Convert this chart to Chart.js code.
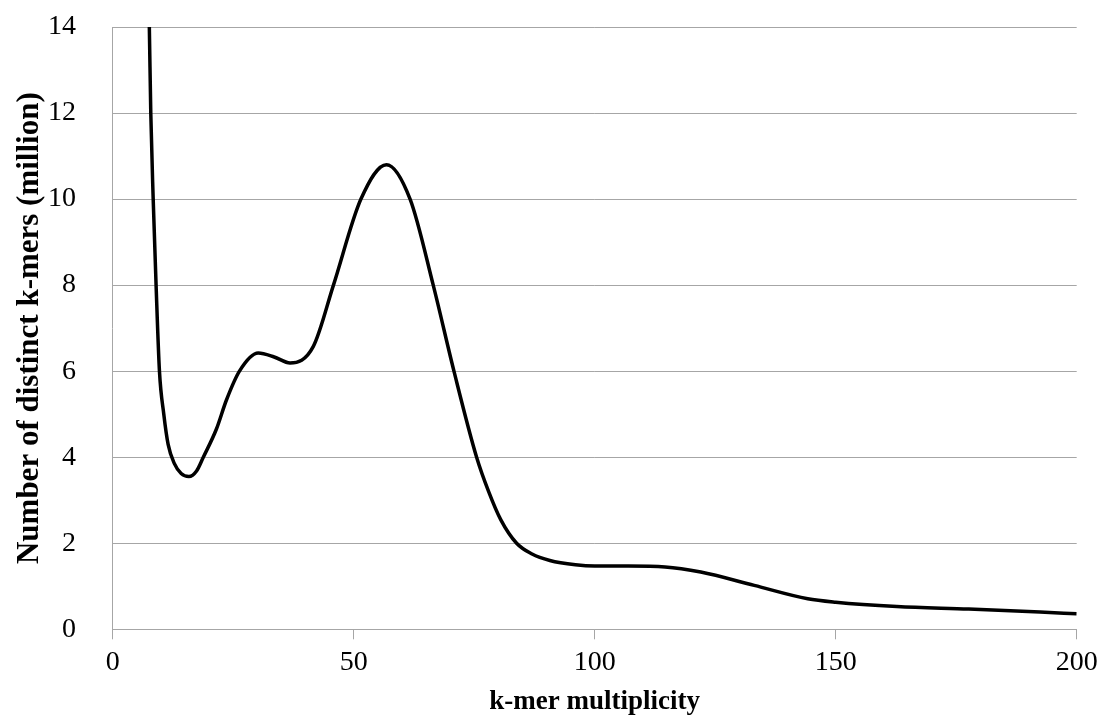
<!DOCTYPE html>
<html>
<head>
<meta charset="utf-8">
<script src="https://cdn.jsdelivr.net/npm/chart.js@4.4.1/dist/chart.umd.min.js"></script>
<style>
  html, body { margin: 0; padding: 0; background: #ffffff; }
  #wrap { width: 1102px; height: 722px; position: relative; }
</style>
</head>
<body>
<div id="wrap"><canvas id="c" width="1102" height="722"></canvas></div>
<script>
// k-mer multiplicity (x) and number of distinct k-mers in millions (y)
const multiplicity = [7.2, 7.6, 7.9, 8.4, 9.0, 9.7, 10.6, 11.5, 12.8, 14.2, 15.8, 17.4, 18.8, 21.5, 23.6, 26.3, 30.2, 33.5, 36.8, 41.6, 45.8, 51.5, 56.8, 61.7, 66.5, 70.8, 75.5, 78, 80.5, 83.8, 87, 90.7, 96, 100, 107, 114.6, 122, 133.1, 144.2, 150, 162.7, 177.6, 192.4, 200];
const distinctKmers = [16, 14, 12, 10, 8, 6, 5, 4.3, 3.85, 3.62, 3.55, 3.68, 4.0, 4.65, 5.33, 6.0, 6.42, 6.33, 6.19, 6.57, 8, 10, 10.8, 10, 8, 6, 4, 3.2, 2.55, 2.0, 1.75, 1.6, 1.5, 1.47, 1.47, 1.45, 1.33, 1.02, 0.71, 0.63, 0.53, 0.47, 0.40, 0.36];
const xTicks = [0, 50, 100, 150, 200];
const yTicks = [0, 2, 4, 6, 8, 10, 12, 14];
const xTitle = 'k-mer multiplicity';
const yTitle = 'Number of distinct k-mers (million)';

const points = multiplicity.map((x, i) => ({ x: x, y: distinctKmers[i] }));
const gridColor = '#a6a6a6';
const serif = '"Liberation Serif", "Times New Roman", serif';

new Chart(document.getElementById('c'), {
  type: 'line',
  data: {
    datasets: [{
      data: points,
      borderColor: '#000000',
      borderWidth: 3.5,
      pointRadius: 0,
      fill: false,
      cubicInterpolationMode: 'monotone'
    }]
  },
  options: {
    responsive: false,
    animation: false,
    devicePixelRatio: 1,
    layout: { padding: { top: 27, right: 25.3, left: 0, bottom: 0 } },
    plugins: { legend: { display: false }, tooltip: { enabled: false } },
    scales: {
      x: {
        type: 'linear',
        min: xTicks[0],
        max: xTicks[xTicks.length - 1],
        afterBuildTicks: (s) => { s.ticks = xTicks.map(v => ({ value: v })); },
        afterFit: (s) => { s.height = 92.7; },
        grid: { drawOnChartArea: false, drawTicks: true, tickLength: 10, color: gridColor },
        border: { color: gridColor, width: 1 },
        ticks: { color: '#000', padding: 0, font: { family: serif, size: 28, lineHeight: 1.69 }, maxRotation: 0 },
        title: { display: true, text: xTitle, color: '#000', padding: { top: 0, bottom: 4 },
                 font: { family: serif, size: 27, weight: 'bold', lineHeight: 1.2 } }
      },
      y: {
        type: 'linear',
        min: yTicks[0],
        max: yTicks[yTicks.length - 1],
        afterBuildTicks: (s) => { s.ticks = yTicks.map(v => ({ value: v })); },
        afterFit: (s) => { s.width = 112.7; },
        grid: { color: gridColor, drawTicks: true, tickLength: 36.7, tickColor: 'rgba(0,0,0,0)' },
        border: { color: gridColor, width: 1 },
        ticks: { color: '#000', padding: 0, font: { family: serif, size: 28 } },
        title: { display: true, text: yTitle, color: '#000', padding: { top: 11, bottom: 0 },
                 font: { family: serif, size: 31, weight: 'bold', lineHeight: 1.2 } }
      }
    }
  }
});
</script>
</body>
</html>
